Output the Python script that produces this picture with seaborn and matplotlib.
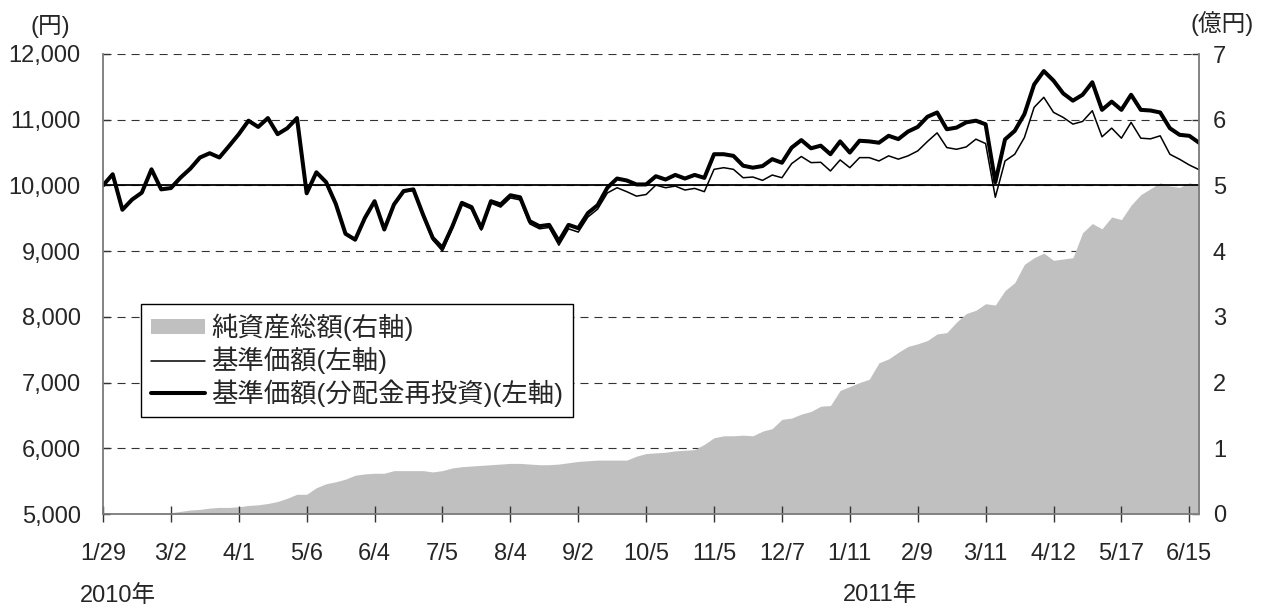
import numpy as np
import pandas as pd
import matplotlib
matplotlib.use("Agg")
import matplotlib.pyplot as plt
import seaborn as sns

# 営業日ベース: 3営業日ごとにチャートから読み取った値
STEP = 3
TICK_EVERY = 21  # 目盛りは21営業日ごと

# 基準価額(分配金再投資) 円
nav_reinvest = [
    10000, 10170, 9630, 9785, 9890, 10245, 9940, 9960, 10120, 10255,
    10425, 10490, 10425, 10600, 10780, 10985, 10890, 11025, 10780, 10870,
    11025, 9880, 10200, 10050, 9720, 9265, 9175, 9505, 9760, 9330,
    9710, 9915, 9940, 9555, 9200, 9050, 9370, 9735, 9670, 9350,
    9760, 9710, 9850, 9820, 9455, 9380, 9400, 9150, 9400, 9350,
    9580, 9700, 9965, 10105, 10075, 10015, 10015, 10140, 10090, 10160,
    10105, 10160, 10115, 10475, 10475, 10450, 10300, 10270, 10295, 10400,
    10345, 10575, 10690, 10565, 10605, 10475, 10670, 10500, 10680, 10670,
    10650, 10755, 10705, 10820, 10890, 11045, 11110, 10855, 10880, 10960,
    10985, 10930, 10050, 10700, 10830, 11085, 11535, 11740, 11595, 11400,
    11290, 11380, 11570, 11150, 11275, 11150, 11380, 11150, 11140, 11110,
    10870, 10770, 10755, 10650,
]

# 基準価額 円
nav = [
    10000, 10170, 9630, 9785, 9890, 10245, 9940, 9960, 10120, 10255,
    10425, 10490, 10425, 10600, 10780, 10985, 10890, 11025, 10780, 10870,
    11025, 9870, 10185, 10035, 9705, 9250, 9160, 9490, 9745, 9315,
    9695, 9900, 9925, 9525, 9170, 9000, 9340, 9705, 9640, 9320,
    9730, 9670, 9810, 9780, 9415, 9340, 9360, 9090, 9340, 9290,
    9520, 9640, 9885, 9965, 9905, 9837, 9862, 10005, 9965, 9990,
    9930, 9955, 9905, 10245, 10270, 10245, 10117, 10128, 10077, 10158,
    10117, 10332, 10440, 10347, 10352, 10220, 10388, 10270, 10423, 10423,
    10372, 10450, 10400, 10450, 10525, 10668, 10800, 10576, 10550, 10586,
    10704, 10637, 9820, 10372, 10474, 10729, 11188, 11341, 11112, 11035,
    10933, 10974, 11137, 10740, 10872, 10719, 10959, 10719, 10709, 10755,
    10474, 10398, 10311, 10240,
]

# 純資産総額 億円
total_assets = [
    0.00, 0.00, 0.00, 0.00, 0.00, 0.00, 0.00, 0.02, 0.04, 0.06,
    0.07, 0.09, 0.10, 0.10, 0.11, 0.13, 0.14, 0.16, 0.19, 0.24,
    0.30, 0.30, 0.40, 0.46, 0.49, 0.53, 0.59, 0.61, 0.62, 0.62,
    0.66, 0.66, 0.66, 0.66, 0.64, 0.66, 0.70, 0.72, 0.73, 0.74,
    0.75, 0.76, 0.77, 0.77, 0.76, 0.75, 0.75, 0.76, 0.78, 0.80,
    0.81, 0.82, 0.82, 0.82, 0.82, 0.88, 0.92, 0.93, 0.94, 0.96,
    0.97, 0.98, 1.06, 1.16, 1.19, 1.19, 1.20, 1.19, 1.26, 1.30,
    1.44, 1.46, 1.52, 1.56, 1.64, 1.65, 1.88, 1.94, 2.00, 2.05,
    2.30, 2.36, 2.46, 2.55, 2.59, 2.64, 2.74, 2.76, 2.92, 3.05,
    3.10, 3.20, 3.18, 3.40, 3.52, 3.80, 3.90, 3.97, 3.86, 3.88,
    3.90, 4.28, 4.42, 4.34, 4.52, 4.48, 4.70, 4.86, 4.95, 5.04,
    4.99, 4.97, 5.04, 5.01,
]

tick_labels = ["1/29", "3/2", "4/1", "5/6", "6/4", "7/5", "8/4", "9/2", "10/5",
               "11/5", "12/7", "1/11", "2/9", "3/11", "4/12", "5/17", "6/15"]

legend_labels = ["純資産総額(右軸)", "基準価額(左軸)", "基準価額(分配金再投資)(左軸)"]

df = pd.DataFrame({
    "day": np.arange(len(nav)) * STEP,
    "nav": nav,
    "nav_re": nav_reinvest,
    "assets": total_assets,
})

sns.set_theme(style="white")
plt.rcParams["font.family"] = ["Liberation Sans", "Noto Sans CJK JP"]
plt.rcParams["lines.scale_dashes"] = False

fig = plt.figure(figsize=(12.65, 6.08), dpi=100)
ax = fig.add_axes([103 / 1265, 94 / 608, 1096 / 1265, 460 / 608])
ax2 = ax.twinx()
ax.set_zorder(ax2.get_zorder() + 1)
ax.patch.set_visible(False)

# 純資産総額(右軸)
area = ax2.fill_between(df["day"], df["assets"], color="#c0c0c0", lw=0, zorder=1)
ax2.set_ylim(0, 7)
ax2.set_yticks(range(8))
ax2.grid(axis="y", color="#333333", linestyle=(0, (5.8, 4.3)), linewidth=0.8)
ax2.set_axisbelow(True)

# 基準価額(左軸)
ax.axhline(10000, color="black", lw=1.3, zorder=1.5)
sns.lineplot(data=df, x="day", y="nav", ax=ax, color="black", linewidth=1.1, legend=False)
sns.lineplot(data=df, x="day", y="nav_re", ax=ax, color="black", linewidth=2.9, legend=False)
ax.set_ylim(5000, 12000)
ax.set_yticks(range(5000, 12001, 1000))
ax.set_yticklabels([f"{v:,}" for v in range(5000, 12001, 1000)])
ax.set_xlim(0, df["day"].iloc[-1])
ax.set_xticks(np.arange(len(tick_labels)) * TICK_EVERY)
ax.set_xticklabels(tick_labels)
ax.set_xlabel("")
ax.set_ylabel("")

for a in (ax, ax2):
    a.spines["top"].set_visible(False)
    for s in ("left", "right", "bottom"):
        a.spines[s].set_color("#808080")
        a.spines[s].set_linewidth(1.1)

ax.tick_params(axis="y", direction="in", length=5, width=1, color="#333333",
               labelsize=17, pad=16, left=True)
ax.tick_params(axis="x", direction="inout", length=11.5, width=1, color="#333333",
               labelsize=17, pad=15, bottom=True)
ax2.tick_params(axis="y", direction="in", length=5, width=1, color="#333333",
                labelsize=17, pad=10, right=True)

handles = [area, ax.lines[1], ax.lines[2]]
leg = ax.legend(handles, legend_labels, loc="upper left",
                bbox_to_anchor=(38 / 1096, 210 / 460), borderaxespad=0,
                frameon=True, fancybox=False, edgecolor="black", framealpha=1,
                fontsize=19, handlelength=2.05, handleheight=0.5, handletextpad=0.23,
                labelspacing=0.2, borderpad=0.37)
leg.get_frame().set_linewidth(1.0)

fig.text(50 / 1265, 1 - 27 / 608, "(円)", ha="center", va="center", fontsize=17)
fig.text(1222 / 1265, 1 - 24 / 608, "(億円)", ha="center", va="center", fontsize=17)
fig.text(118 / 1265, 1 - 596 / 608, "2010年", ha="center", va="center", fontsize=17)
fig.text(880 / 1265, 1 - 595 / 608, "2011年", ha="center", va="center", fontsize=17)

fig.savefig("out.png", dpi=100)
